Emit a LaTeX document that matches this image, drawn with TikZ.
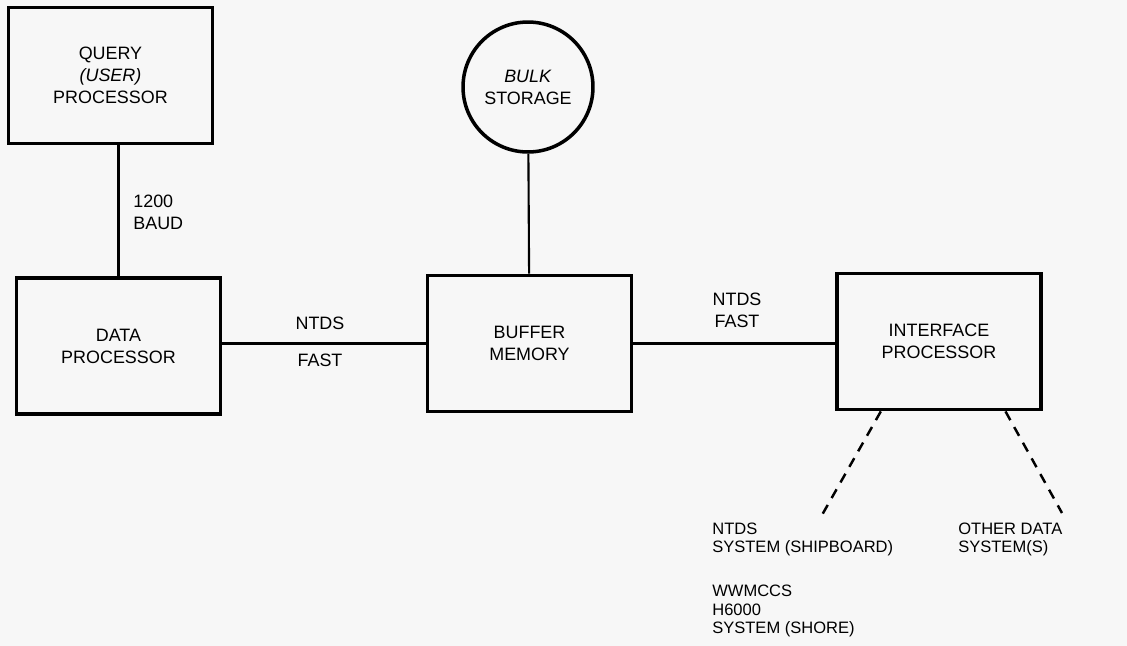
\documentclass[tikz,border=0pt]{standalone}
\usepackage{fontspec}
\setmainfont{Liberation Sans}
\usetikzlibrary{calc}
\begin{document}
\begin{tikzpicture}[x=0.02cm,y=-0.02cm,line cap=butt,line join=miter,
font=\fontsize{10.2}{12.5}\selectfont]
\tikzset{unitbox/.style={draw,line width=2.2pt,minimum width=4.08cm,minimum height=2.72cm,align=center,inner sep=0pt},
link/.style={line width=1.2pt},
lbl/.style={align=center,inner sep=0pt},
sidetext/.style={align=left,anchor=west,inner sep=0pt},
systext/.style={sidetext,font=\fontsize{9.4}{10.6}\selectfont}
}
\fill[black!3] (0,0) rectangle (1127,646);
\useasboundingbox (0,0) rectangle (1127,646);
\node[unitbox] (query) at (110.5,75.5) {QUERY\\\textit{(USER)}\\PROCESSOR};
\node[unitbox] (data) at (118.5,346) {DATA\\PROCESSOR};
\node[unitbox] (buffer) at (529.5,343.5) {BUFFER\\MEMORY};
\node[unitbox] (iface) at (939,341.5) {INTERFACE\\PROCESSOR};
\node[draw,circle,line width=2pt,minimum size=2.6cm,align=center,inner sep=0pt] (bulk) at (528,87) {\textit{BULK}\\STORAGE};
\draw[link] (data.north) -- (data.north |- query.south);
\draw[link] (bulk) -- (buffer);
\draw[link] (buffer.west) -- (buffer.west -| data.east);
\draw[link] (buffer.east) -- (buffer.east -| iface.west);
\node[sidetext] (baud) at (133,212.5) {1200\\BAUD};
\node[lbl] (ntdsa) at (320,323) {NTDS};
\node[lbl] (fasta) at (320,360) {FAST};
\node[lbl] (ntdsb) at (737,310) {NTDS\\FAST};
% links to outside systems
\coordinate (ntdsend) at (822,515);
\coordinate (otherend) at (1062,513);
\draw[line width=1.4pt,dash pattern=on 5.7pt off 4.5pt] ($(iface.south west)!0.22!(iface.south east)$) -- (ntdsend);
\draw[line width=1.4pt,dash pattern=on 5.7pt off 4.5pt] ($(iface.south west)!0.82!(iface.south east)$) -- (otherend);
\node[systext] (ntdssys) at (712,539.5) {NTDS\\SYSTEM (SHIPBOARD)};
\node[systext] (wwmccs) at (712,611) {WWMCCS\\H6000\\SYSTEM (SHORE)};
\node[systext] (othersys) at (958,539.5) {OTHER DATA\\SYSTEM(S)};
\end{tikzpicture}
\end{document}
